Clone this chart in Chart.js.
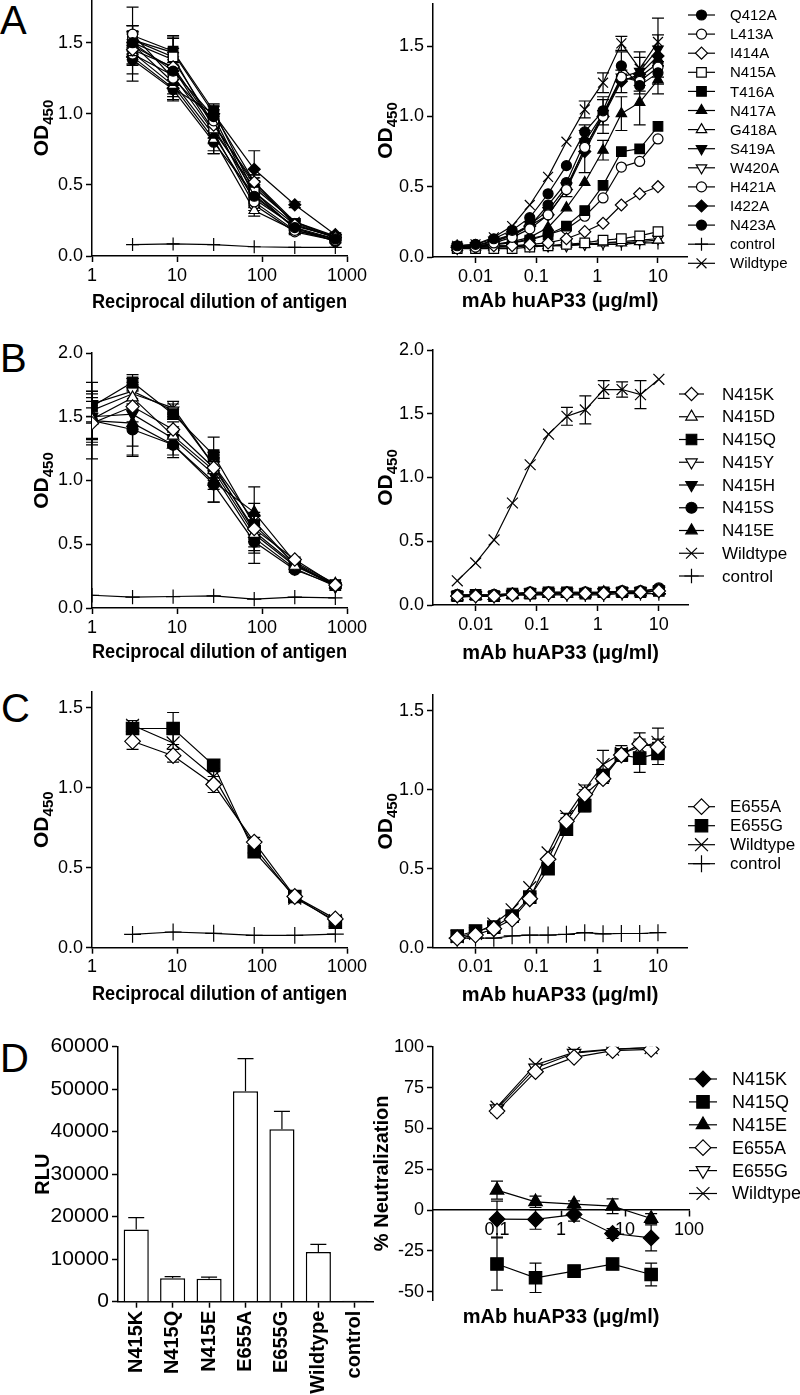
<!DOCTYPE html>
<html>
<head>
<meta charset="utf-8">
<script src="https://cdn.jsdelivr.net/npm/chart.js"></script>
<style>
  body { margin: 0; background: #fff; width: 800px; height: 1395px; position: relative; overflow: hidden; font-family: 'Liberation Sans', Arial, sans-serif; }
  canvas { position: absolute; }
  .lt { position: absolute; font-size: 40px; line-height: 1; color: #000; }
</style>
</head>
<body>
<div class="lt" style="left:0;top:0">A</div>
<div class="lt" style="left:0;top:338px">B</div>
<div class="lt" style="left:1px;top:688px">C</div>
<div class="lt" style="left:0;top:1038px">D</div>
<canvas id="a1" width="400" height="320" style="left:0;top:0"></canvas>
<canvas id="a2" width="440" height="320" style="left:360px;top:0"></canvas>
<canvas id="b1" width="400" height="345" style="left:0;top:330px"></canvas>
<canvas id="b2" width="440" height="345" style="left:360px;top:330px"></canvas>
<canvas id="c1" width="400" height="360" style="left:0;top:650px"></canvas>
<canvas id="c2" width="440" height="360" style="left:360px;top:650px"></canvas>
<canvas id="d1" width="400" height="415" style="left:0;top:980px"></canvas>
<canvas id="d2" width="440" height="415" style="left:360px;top:980px"></canvas>
<script>
// x values
const dilution = [3, 9, 27, 81, 243, 729];
const dilutionB = [1, 3, 9, 27, 81, 243, 729];
const mabConc = [0.005, 0.01, 0.02, 0.04, 0.078, 0.156, 0.3125, 0.625, 1.25, 2.5, 5, 10];
const neutConc = [0.1, 0.4, 1.6, 6.4, 25.6];

// tick values / labels
const dilTicks = [1, 10, 100, 1000];
const dilTickLabels = ['1', '10', '100', '1000'];
const mabTicks = [0.01, 0.1, 1, 10];
const mabTickLabels = ['0.01', '0.1', '1', '10'];
const neutXTicks = [0.1, 1, 10, 100];
const neutXLabels = ['0.1', '1', '10', '100'];
const odTicks15 = [0, 0.5, 1, 1.5];
const odLabels15 = ['0.0', '0.5', '1.0', '1.5'];
const odTicks20 = [0, 0.5, 1, 1.5, 2];
const odLabels20 = ['0.0', '0.5', '1.0', '1.5', '2.0'];
const rluTicks = [0, 10000, 20000, 30000, 40000, 50000, 60000];
const rluTickLabels = ['0', '10000', '20000', '30000', '40000', '50000', '60000'];
const neutTicks = [-50, -25, 0, 25, 50, 75, 100];
const neutTickLabels = ['-50', '-25', '0', '25', '50', '75', '100'];

// panel A
const mutA = ['Q412A', 'L413A', 'I414A', 'N415A', 'T416A', 'N417A', 'G418A', 'S419A', 'W420A', 'H421A', 'I422A', 'N423A', 'control', 'Wildtype'];
const markA = ['circF', 'circO', 'diaO', 'sqO', 'sqF', 'triF', 'triO', 'invF', 'invO', 'circO', 'diaF', 'circF', 'plus', 'ex'];
const odA1 = [
  [1.50, 1.30, 0.98, 0.42, 0.20, 0.12],
  [1.56, 1.25, 0.95, 0.38, 0.18, 0.11],
  [1.45, 1.33, 0.92, 0.52, 0.22, 0.13],
  [1.52, 1.40, 0.90, 0.45, 0.19, 0.12],
  [1.55, 1.44, 1.02, 0.45, 0.22, 0.13],
  [1.49, 1.22, 0.85, 0.40, 0.21, 0.14],
  [1.43, 1.20, 0.82, 0.32, 0.18, 0.12],
  [1.48, 1.32, 0.88, 0.48, 0.24, 0.14],
  [1.50, 1.38, 0.93, 0.50, 0.23, 0.13],
  [1.42, 1.27, 0.87, 0.36, 0.17, 0.11],
  [1.40, 1.18, 1.00, 0.61, 0.36, 0.15],
  [1.38, 1.17, 0.80, 0.43, 0.20, 0.10],
  [0.08, 0.085, 0.08, 0.065, 0.06, 0.06],
  [1.52, 1.43, 1.00, 0.52, 0.24, 0.13]
];
const errA1 = [
  [0.08, 0.06, 0.05, 0.05, 0.02, 0.01],
  [0.06, 0.05, 0.04, 0.04, 0.02, 0.01],
  [0.05, 0.05, 0.04, 0.05, 0.02, 0.01],
  [0.05, 0.06, 0.05, 0.04, 0.02, 0.01],
  [0.07, 0.10, 0.05, 0.05, 0.02, 0.01],
  [0.26, 0.08, 0.06, 0.05, 0.02, 0.01],
  [0.08, 0.10, 0.10, 0.04, 0.02, 0.01],
  [0.10, 0.23, 0.05, 0.05, 0.02, 0.01],
  [0.06, 0.05, 0.05, 0.05, 0.02, 0.01],
  [0.07, 0.06, 0.15, 0.04, 0.02, 0.01],
  [0.06, 0.06, 0.06, 0.13, 0.02, 0.01],
  [0.10, 0.07, 0.06, 0.05, 0.02, 0.01],
  null,
  [0.10, 0.10, 0.05, 0.05, 0.02, 0.01]
];
const odA2 = [
  [0.08, 0.09, 0.13, 0.19, 0.28, 0.45, 0.65, 0.89, 1.04, 1.36, 1.22, 1.31],
  [0.06, 0.07, 0.10, 0.14, 0.20, 0.30, 0.48, 0.78, 1.00, 1.28, 1.25, 1.35],
  [0.07, 0.07, 0.08, 0.08, 0.09, 0.10, 0.13, 0.18, 0.24, 0.37, 0.45, 0.50],
  [0.06, 0.06, 0.06, 0.06, 0.07, 0.08, 0.09, 0.10, 0.12, 0.13, 0.15, 0.18],
  [0.07, 0.07, 0.09, 0.10, 0.12, 0.16, 0.22, 0.33, 0.51, 0.75, 0.77, 0.93],
  [0.07, 0.08, 0.09, 0.11, 0.14, 0.21, 0.35, 0.53, 0.76, 1.02, 1.10, 1.26],
  [0.07, 0.07, 0.07, 0.08, 0.08, 0.08, 0.09, 0.09, 0.10, 0.10, 0.11, 0.12],
  [0.07, 0.08, 0.12, 0.16, 0.23, 0.33, 0.50, 0.77, 1.02, 1.28, 1.32, 1.48],
  [0.06, 0.07, 0.07, 0.07, 0.08, 0.08, 0.08, 0.09, 0.10, 0.11, 0.12, 0.13],
  [0.07, 0.08, 0.09, 0.10, 0.13, 0.16, 0.20, 0.29, 0.42, 0.64, 0.68, 0.84],
  [0.07, 0.08, 0.11, 0.16, 0.22, 0.30, 0.48, 0.75, 1.00, 1.25, 1.30, 1.43],
  [0.07, 0.08, 0.11, 0.15, 0.22, 0.37, 0.53, 0.82, 1.02, 1.26, 1.28, 1.38],
  [0.08, 0.08, 0.08, 0.08, 0.08, 0.08, 0.08, 0.09, 0.09, 0.09, 0.10, 0.10],
  [0.08, 0.09, 0.14, 0.22, 0.37, 0.57, 0.82, 1.05, 1.24, 1.52, 1.34, 1.53]
];
const errA2 = [
  [0, 0, 0, 0, 0, 0, 0, 0.05, 0.10, 0.10, 0.06, 0.08],
  null, null, null, null,
  [0, 0, 0, 0, 0, 0, 0, 0, 0.07, 0.12, 0.16, 0.10],
  null, null, null, null,
  [0, 0, 0, 0, 0, 0, 0.05, 0.15, 0.12, 0.08, 0.12, 0.15],
  null, null,
  [0, 0, 0, 0, 0, 0, 0, 0.06, 0.07, 0.05, 0.12, 0.17]
];

// panel B
const mutB = ['N415K', 'N415D', 'N415Q', 'N415Y', 'N415H', 'N415S', 'N415E', 'Wildtype', 'control'];
const markB = ['diaO', 'triO', 'sqF', 'invO', 'invF', 'circF', 'triF', 'ex', 'plus'];
const odB1 = [
  [1.45, 1.58, 1.40, 1.10, 0.62, 0.38, 0.18],
  [1.48, 1.65, 1.35, 1.08, 0.58, 0.33, 0.18],
  [1.58, 1.77, 1.52, 1.20, 0.65, 0.35, 0.18],
  [1.60, 1.70, 1.55, 1.12, 0.60, 0.34, 0.17],
  [1.50, 1.52, 1.33, 1.05, 0.55, 0.31, 0.17],
  [1.47, 1.40, 1.28, 0.97, 0.52, 0.30, 0.18],
  [1.47, 1.45, 1.28, 0.99, 0.75, 0.36, 0.19],
  [1.55, 1.68, 1.57, 1.12, 0.68, 0.34, 0.18],
  [0.10, 0.085, 0.09, 0.095, 0.07, 0.085, 0.08]
];
const errB1 = [
  [0.12, 0.12, 0.06, 0.10, 0.10, 0.02, 0.01],
  [0.20, 0.10, 0.07, 0.10, 0.15, 0.02, 0.01],
  [0.12, 0.06, 0.04, 0.14, 0.10, 0.02, 0.01],
  [0.10, 0.10, 0.05, 0.10, 0.12, 0.02, 0.01],
  [0.20, 0.25, 0.06, 0.12, 0.10, 0.02, 0.01],
  [0.15, 0.20, 0.10, 0.14, 0.17, 0.02, 0.01],
  [0.30, 0.26, 0.08, 0.16, 0.20, 0.02, 0.01],
  [0.10, 0.12, 0.05, 0.10, 0.14, 0.02, 0.01],
  null
];
const odB2 = [
  [0.07, 0.07, 0.07, 0.08, 0.09, 0.09, 0.09, 0.09, 0.09, 0.10, 0.10, 0.11],
  [0.06, 0.07, 0.07, 0.08, 0.08, 0.09, 0.09, 0.09, 0.10, 0.10, 0.10, 0.11],
  [0.07, 0.08, 0.07, 0.09, 0.09, 0.10, 0.10, 0.09, 0.10, 0.10, 0.10, 0.11],
  [0.07, 0.07, 0.07, 0.08, 0.09, 0.09, 0.09, 0.09, 0.10, 0.10, 0.10, 0.11],
  [0.08, 0.08, 0.08, 0.09, 0.10, 0.10, 0.10, 0.10, 0.10, 0.11, 0.11, 0.12],
  [0.08, 0.08, 0.08, 0.09, 0.10, 0.10, 0.10, 0.10, 0.10, 0.11, 0.11, 0.13],
  [0.07, 0.07, 0.07, 0.08, 0.09, 0.09, 0.09, 0.09, 0.09, 0.10, 0.10, 0.11],
  [0.19, 0.33, 0.51, 0.80, 1.10, 1.34, 1.48, 1.53, 1.69, 1.69, 1.65, 1.77],
  [0.07, 0.07, 0.07, 0.08, 0.08, 0.08, 0.08, 0.08, 0.08, 0.09, 0.09, 0.09]
];
const errB2 = [null, null, null, null, null, null, null,
  [0, 0, 0, 0, 0, 0, 0.07, 0.11, 0.07, 0.06, 0.11, 0], null];

// panel C
const mutC = ['E655A', 'E655G', 'Wildtype', 'control'];
const markC = ['diaO', 'sqF', 'ex', 'plus'];
const odC1 = [
  [1.29, 1.20, 1.02, 0.66, 0.32, 0.18],
  [1.37, 1.37, 1.14, 0.60, 0.32, 0.16],
  [1.39, 1.28, 1.07, 0.63, 0.31, 0.17],
  [0.083, 0.098, 0.09, 0.077, 0.077, 0.085]
];
const errC1 = [
  [0.05, 0.04, 0.05, 0.03, 0.01, 0.01],
  [0.03, 0.10, 0.02, 0.02, 0.01, 0.01],
  [0.03, 0.07, 0.03, 0.03, 0.01, 0.01],
  null
];
const odC2 = [
  [0.06, 0.08, 0.12, 0.18, 0.31, 0.56, 0.80, 0.97, 1.07, 1.22, 1.29, 1.27],
  [0.074, 0.106, 0.13, 0.20, 0.32, 0.50, 0.75, 0.90, 1.09, 1.22, 1.20, 1.23],
  [0.07, 0.09, 0.15, 0.24, 0.38, 0.60, 0.83, 1.00, 1.16, 1.23, 1.27, 1.30],
  [0.06, 0.06, 0.06, 0.075, 0.08, 0.08, 0.085, 0.095, 0.088, 0.09, 0.09, 0.095]
];
const errC2 = [
  [0, 0, 0, 0, 0, 0, 0.02, 0.03, 0.03, 0.03, 0.07, 0.05],
  [0, 0, 0, 0, 0, 0, 0.03, 0.04, 0.04, 0.04, 0.09, 0.07],
  [0, 0, 0, 0, 0, 0, 0.02, 0.03, 0.09, 0.05, 0.05, 0.09],
  null
];

// panel D
const rluGroups = ['N415K', 'N415Q', 'N415E', 'E655A', 'E655G', 'Wildtype', 'control'];
const rluMean = [17000, 5500, 5400, 49500, 40600, 11700, 200];
const rluErr = [2800, 400, 400, 7700, 4200, 1800, 0];
const mutD = ['N415K', 'N415Q', 'N415E', 'E655A', 'E655G', 'Wildtype'];
const markD = ['diaF', 'sqF', 'triF', 'diaO', 'invO', 'ex'];
const neutD = [
  [-5.5, -5.7, -2.7, -14.3, -17],
  [-33, -41.4, -37.3, -33, -39.4],
  [12.2, 5.1, 3.7, 2.4, -5.1],
  [60.6, 84.7, 93.5, 97.6, 98.4],
  [62, 87, 96, 98.4, 99.4],
  [63, 89, 96.5, 98.5, 99.5]
];
const errD = [
  [11, 6, 4, 3, 8],
  [16, 9, 2, 2, 7],
  [5.5, 3.5, 2, 4.5, 3],
  null, null, null
];

const FAM = "'Liberation Sans', Arial, sans-serif";
Chart.defaults.font.family = FAM;
Chart.defaults.color = '#000';

const STYLE = {
  circF: { ps: 'circle', bg: '#000', k: 1 },
  circO: { ps: 'circle', bg: '#fff', k: 1 },
  diaF: { ps: 'rectRot', bg: '#000', k: 1.2 },
  diaO: { ps: 'rectRot', bg: '#fff', k: 1.2 },
  sqF: { ps: 'rect', bg: '#000', k: 1.35 },
  sqO: { ps: 'rect', bg: '#fff', k: 1.35 },
  triF: { ps: 'triangle', bg: '#000', k: 1.2 },
  triO: { ps: 'triangle', bg: '#fff', k: 1.2 },
  invF: { ps: 'triangle', bg: '#000', k: 1.2, rot: 180 },
  invO: { ps: 'triangle', bg: '#fff', k: 1.2, rot: 180 },
  plus: { ps: 'cross', bg: '#000', k: 1.3 },
  ex: { ps: 'crossRot', bg: '#000', k: 1.4 }
};

function series(names, marks, xs, ys, errs, r) {
  return names.map((n, i) => {
    const s = STYLE[marks[i]];
    return {
      label: n,
      data: xs.map((x, j) => ({ x: x, y: ys[i][j] })),
      errors: errs ? errs[i] : null,
      borderColor: '#000',
      borderWidth: 1.2,
      tension: 0,
      pointStyle: s.ps,
      pointRotation: s.rot || 0,
      pointRadius: r * s.k,
      pointHoverRadius: r * s.k,
      pointBackgroundColor: s.bg,
      pointBorderColor: '#000',
      pointBorderWidth: 1.2
    };
  });
}

// error bars drawn from the library's own scale
const errorBars = {
  id: 'errorBars',
  beforeDatasetsDraw(chart) {
    const ctx = chart.ctx;
    const ys = chart.scales.y;
    ctx.save();
    ctx.strokeStyle = '#000';
    ctx.lineWidth = 1.2;
    chart.data.datasets.forEach((ds, i) => {
      if (!ds.errors) return;
      const meta = chart.getDatasetMeta(i);
      meta.data.forEach((el, j) => {
        const e = ds.errors[j];
        if (!e) return;
        const d = ds.data[j];
        const v = typeof d === 'object' ? d.y : d;
        const c = ds.capW || 6;
        const top = ys.getPixelForValue(v + e);
        const bot = ds.errUp ? el.y : ys.getPixelForValue(v - e);
        ctx.beginPath();
        ctx.moveTo(el.x, top); ctx.lineTo(el.x, bot);
        ctx.moveTo(el.x - c, top); ctx.lineTo(el.x + c, top);
        if (!ds.errUp) { ctx.moveTo(el.x - c, bot); ctx.lineTo(el.x + c, bot); }
        ctx.stroke();
      });
    });
    ctx.restore();
  }
};

// rotated OD450 label with subscript
const odTitle = {
  id: 'odTitle',
  afterDraw(chart, args, o) {
    if (!o || !o.x) return;
    const ctx = chart.ctx, a = chart.chartArea;
    ctx.save();
    ctx.translate(o.x, (a.top + a.bottom) / 2);
    ctx.rotate(-Math.PI / 2);
    ctx.fillStyle = '#000';
    ctx.textBaseline = 'alphabetic';
    ctx.font = 'bold 21px ' + FAM;
    const w1 = ctx.measureText('OD').width;
    ctx.font = 'bold 15px ' + FAM;
    const w2 = ctx.measureText('450').width;
    const x0 = -(w1 + w2) / 2;
    ctx.font = 'bold 21px ' + FAM;
    ctx.fillText('OD', x0, 7.5);
    ctx.font = 'bold 15px ' + FAM;
    ctx.fillText('450', x0 + w1, 12.5);
    ctx.restore();
  }
};

// legend with line through marker
const lineLegend = {
  id: 'lineLegend',
  afterDraw(chart, args, o) {
    if (!o || !o.show) return;
    const ctx = chart.ctx;
    ctx.save();
    ctx.font = o.size + 'px ' + FAM;
    ctx.textBaseline = 'middle';
    chart.data.datasets.forEach((ds, i) => {
      const y = o.y + i * o.gap;
      ctx.strokeStyle = '#000';
      ctx.lineWidth = 1.2;
      ctx.beginPath(); ctx.moveTo(o.x1, y); ctx.lineTo(o.x2, y); ctx.stroke();
      ctx.fillStyle = ds.pointBackgroundColor;
      Chart.helpers.drawPoint(ctx, {
        pointStyle: ds.pointStyle, rotation: ds.pointRotation,
        radius: ds.pointRadius, borderWidth: 1.2
      }, (o.x1 + o.x2) / 2, y);
      ctx.fillStyle = '#000';
      ctx.fillText(ds.label, o.tx, y + 1);
    });
    ctx.restore();
  }
};

function axis(p) {
  return {
    type: p.type,
    min: p.min,
    max: p.max,
    position: p.position || undefined,
    border: { color: '#000', width: 1.5 },
    grid: { drawOnChartArea: false, tickLength: 6, tickWidth: 1.5, color: '#000', offset: false },
    ticks: Object.assign({ font: { size: p.font || 18 }, padding: 3, autoSkip: false,
      callback: (v, i) => p.labels[i] }, p.tickOpts || {}),
    afterBuildTicks: p.ticks ? s => { s.ticks = p.ticks.map(v => ({ value: v })); } : undefined,
    afterFit: s => {
      if (p.w !== undefined) s.width = p.w;
      if (p.h !== undefined) s.height = p.h;
      s.paddingLeft = s.paddingRight = s.paddingTop = s.paddingBottom = 0;
    },
    title: p.title ? { display: true, text: p.title, font: { size: p.titleSize || 20, weight: 'bold' },
      padding: p.titlePad } : { display: false }
  };
}

function lineChart(id, p) {
  return new Chart(document.getElementById(id), {
    type: 'line',
    data: { datasets: p.datasets },
    options: {
      responsive: false,
      animation: false,
      events: [],
      layout: { padding: p.pad, autoPadding: false },
      plugins: {
        legend: { display: false },
        tooltip: { enabled: false },
        title: p.bottomTitle ? { display: true, position: 'bottom', fullSize: false, text: p.bottomTitle,
          font: { size: 20, weight: 'bold' }, padding: { top: 5, bottom: 0 } } : { display: false },
        odTitle: p.od || {},
        lineLegend: p.legend || {}
      },
      scales: { x: p.x, y: p.y }
    },
    plugins: [errorBars, odTitle, lineLegend]
  });
}

const agTitle = 'Reciprocal dilution of antigen';
const mabTitle = 'mAb huAP33 (μg/ml)';

// A
lineChart('a1', {
  datasets: series(mutA, markA, dilution, odA1, errA1, 5),
  pad: { left: 0, right: 53, top: 0, bottom: 0 },
  od: { x: 40 },
  x: axis({ type: 'logarithmic', min: 1, max: 1000, ticks: dilTicks, labels: dilTickLabels, h: 64,
    title: agTitle, titleSize: 21, titlePad: { top: 0, bottom: 5 } }),
  y: axis({ type: 'linear', min: 0, max: 1.8, ticks: odTicks15, labels: odLabels15, w: 92 })
});
lineChart('a2', {
  datasets: series(mutA, markA, mabConc, odA2, errA2, 5),
  pad: { left: 0, right: 113, top: 4, bottom: 0 },
  od: { x: 24 },
  legend: { show: true, x1: 328, x2: 355, tx: 370, y: 15, gap: 19.1, size: 15 },
  x: axis({ type: 'logarithmic', min: 0.002, max: 30, ticks: mabTicks, labels: mabTickLabels, h: 63,
    title: mabTitle, titlePad: { top: 0, bottom: 7 } }),
  y: axis({ type: 'linear', min: 0, max: 1.8, ticks: odTicks15, labels: odLabels15, w: 73 })
});

// B
lineChart('b1', {
  datasets: series(mutB, markB, dilutionB, odB1, errB1, 5.5),
  pad: { left: 0, right: 53, top: 23, bottom: 0 },
  od: { x: 40 },
  x: axis({ type: 'logarithmic', min: 1, max: 1000, ticks: dilTicks, labels: dilTickLabels, h: 67,
    title: agTitle, titleSize: 21, titlePad: { top: 0, bottom: 10 } }),
  y: axis({ type: 'linear', min: 0, max: 2, ticks: odTicks20, labels: odLabels20, w: 92 })
});
lineChart('b2', {
  datasets: series(mutB, markB, mabConc, odB2, errB2, 5.5),
  pad: { left: 0, right: 112, top: 20, bottom: 0 },
  od: { x: 24 },
  legend: { show: true, x1: 319, x2: 344, tx: 362, y: 64, gap: 22.75, size: 17 },
  x: axis({ type: 'logarithmic', min: 0.002, max: 30, ticks: mabTicks, labels: mabTickLabels, h: 70,
    title: mabTitle, titlePad: { top: 0, bottom: 10 } }),
  y: axis({ type: 'linear', min: 0, max: 2, ticks: odTicks20, labels: odLabels20, w: 73 })
});

// C
lineChart('c1', {
  datasets: series(mutC, markC, dilution, odC1, errC1, 6.5),
  pad: { left: 0, right: 53, top: 41.7, bottom: 0 },
  od: { x: 40 },
  x: axis({ type: 'logarithmic', min: 1, max: 1000, ticks: dilTicks, labels: dilTickLabels, h: 62.3,
    title: agTitle, titleSize: 21, titlePad: { top: 0, bottom: 3 } }),
  y: axis({ type: 'linear', min: 0, max: 1.6, ticks: odTicks15, labels: odLabels15, w: 92 })
});
lineChart('c2', {
  datasets: series(mutC, markC, mabConc, odC2, errC2, 6.5),
  pad: { left: 0, right: 113, top: 45, bottom: 0 },
  od: { x: 24 },
  legend: { show: true, x1: 328, x2: 355, tx: 370, y: 156.7, gap: 19, size: 17 },
  x: axis({ type: 'logarithmic', min: 0.002, max: 30, ticks: mabTicks, labels: mabTickLabels, h: 62.3,
    title: mabTitle, titlePad: { top: 0, bottom: 3 } }),
  y: axis({ type: 'linear', min: 0, max: 1.6, ticks: odTicks15, labels: odLabels15, w: 73 })
});

// D left: bars
new Chart(document.getElementById('d1'), {
  type: 'bar',
  data: {
    labels: rluGroups,
    datasets: [{
      data: rluMean, errors: rluErr, errUp: true, capW: 8,
      backgroundColor: '#fff', borderColor: '#000', borderWidth: 1.5,
      barPercentage: 0.69, categoryPercentage: 1
    }]
  },
  options: {
    responsive: false,
    animation: false,
    events: [],
    layout: { padding: { left: 0, right: 27, top: 66.7, bottom: 0 }, autoPadding: false },
    plugins: { legend: { display: false }, tooltip: { enabled: false } },
    scales: {
      x: axis({ type: 'category', h: 93.3, labels: rluGroups,
        tickOpts: { minRotation: 90, maxRotation: 90, font: { size: 20, weight: 'bold' } } }),
      y: axis({ type: 'linear', min: 0, max: 60000, ticks: rluTicks, labels: rluTickLabels, w: 118, font: 21,
        title: 'RLU', titlePad: { top: 31, bottom: 0 } })
    }
  },
  plugins: [errorBars]
});

// D right: neutralization
lineChart('d2', {
  datasets: series(mutD, markD, neutConc, neutD, errD, 6.5),
  pad: { left: 0, right: 111, top: 66.7, bottom: 66 },
  legend: { show: true, x1: 329, x2: 357, tx: 372, y: 99, gap: 22.9, size: 18 },
  bottomTitle: mabTitle,
  x: axis({ type: 'logarithmic', min: 0.01, max: 100, ticks: neutXTicks, labels: neutXLabels, position: { y: 0 } }),
  y: axis({ type: 'linear', min: -55, max: 100, ticks: neutTicks, labels: neutTickLabels, w: 73,
    title: '% Neutralization', titlePad: { top: 10, bottom: 0 } })
});
</script>
</body>
</html>
